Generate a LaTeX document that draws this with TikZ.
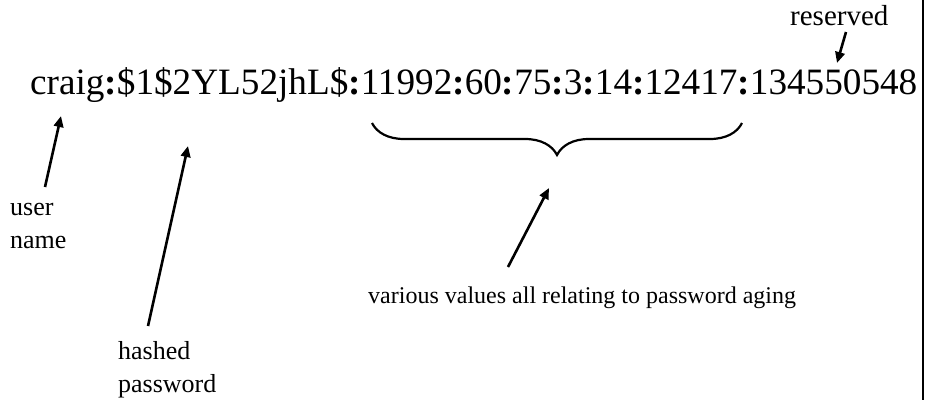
\documentclass[tikz,border=0pt]{standalone}
\usepackage{fontspec}
\setmainfont{Liberation Serif}
\usetikzlibrary{arrows.meta,decorations.pathreplacing}

\tikzset{
  record/.style={anchor=base west, inner sep=0pt, font=\fontsize{37.2}{40}\selectfont},
  note/.style={anchor=base west, inner sep=0pt, align=left, font=\fontsize{26}{32.5}\selectfont},
  pointer/.style={line width=2.6pt, -{Triangle[length=11pt,width=9.5pt]}},
  bracket/.style={line width=2.2pt, decorate, decoration={brace, mirror, amplitude=32pt}},
  frameline/.style={line width=2pt}
}
\newcommand{\sep}{{\bfseries :}}

\begin{document}
\begin{tikzpicture}[x=1pt, y=-1pt]
  \useasboundingbox (0,0) rectangle (927,400);

  % right-hand frame edge
  \coordinate (edgetop) at (923,0);
  \coordinate (edgebot) at (923,400);
  \draw[frameline] (edgetop) -- (edgebot);

  % the shadow record
  \node[record] (rec) at (30,94)
    {craig\sep\$1\$2YL52jhL\$\sep11992\sep60\sep75\sep3\sep14\sep12417\sep134550548};

  % field labels (multi-line nodes sit on their last baseline)
  \node[note] (user) at (10,248) {user\\name};
  \node[note] (hash) at (118,392) {hashed\\password};
  \node[note, font=\fontsize{24}{30}\selectfont] (aging) at (368,303) {various values all relating to password aging};
  \node[note, font=\fontsize{29}{32}\selectfont] (resv) at (790,25) {reserved};

  % arrow ends
  \coordinate (userfrom) at (45,187);
  \coordinate (userto) at (61,116);
  \coordinate (hashfrom) at (148,326);
  \coordinate (hashto) at (188,146);
  \coordinate (agingfrom) at (508,267);
  \coordinate (agingto) at (549,188);
  \coordinate (resvfrom) at (846,32);
  \coordinate (resvto) at (837,63);

  \draw[pointer] (userfrom) -- (userto);
  \draw[pointer] (hashfrom) -- (hashto);
  \draw[pointer] (agingfrom) -- (agingto);
  \draw[pointer] (resvfrom) -- (resvto);

  % brace under the aging fields
  \coordinate (braceL) at (372,123);
  \coordinate (braceR) at (742,123);
  \draw[bracket] (braceL) -- (braceR);
\end{tikzpicture}
\end{document}
